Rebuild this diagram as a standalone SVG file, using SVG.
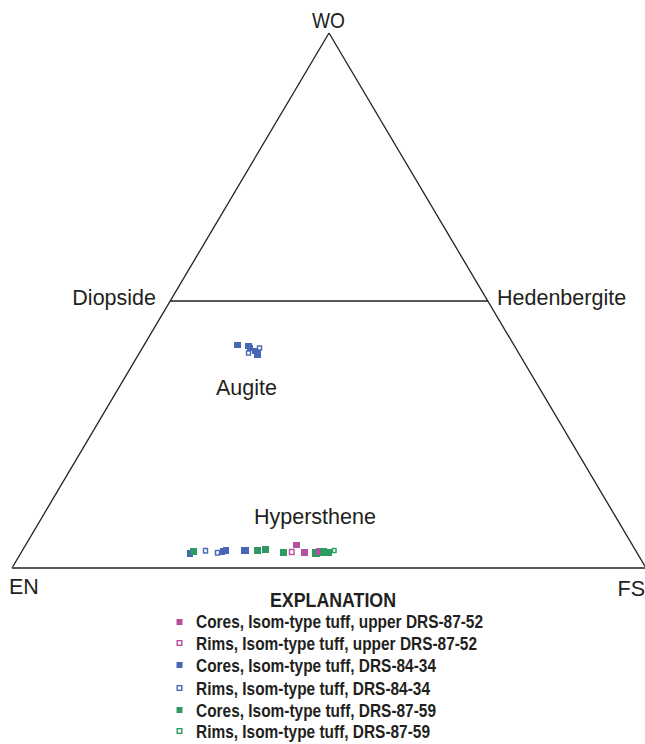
<svg xmlns="http://www.w3.org/2000/svg" width="645" height="744" viewBox="0 0 645 744">
<style>
.lbl{font-family:"Liberation Sans",Arial,sans-serif;font-size:21.5px;fill:#231f20}
.leg{font-family:"Liberation Sans",Arial,sans-serif;font-weight:bold;font-size:19px;fill:#231f20}
.edge{stroke:#231f20;stroke-width:1.3;fill:none}
.mf{fill:#b64f9d}.mo{fill:#fff;stroke:#b64f9d;stroke-width:1.4}
.bf{fill:#4766b5}.bo{fill:#fff;stroke:#4766b5;stroke-width:1.4}
.gf{fill:#2e9a62}.go{fill:#fff;stroke:#2e9a62;stroke-width:1.4}
</style>
<rect width="645" height="744" fill="#fff"/>
<g id="connectors">
<line class="edge" x1="12" y1="568" x2="329" y2="33"/>
<line class="edge" x1="329" y1="33" x2="646" y2="568"/>
<line class="edge" x1="170" y1="301" x2="488" y2="301"/>
<line x1="12" y1="568" x2="646" y2="568" stroke="#58595b" stroke-width="2"/>
</g>
<g id="labels">
<text class="lbl" x="312" y="28" textLength="33" lengthAdjust="spacingAndGlyphs">WO</text>
<text class="lbl" x="156" y="305" text-anchor="end">Diopside</text>
<text class="lbl" x="497" y="305">Hedenbergite</text>
<text class="lbl" x="216" y="395">Augite</text>
<text class="lbl" x="254" y="524">Hypersthene</text>
<text class="lbl" x="9" y="594">EN</text>
<text class="lbl" x="645" y="596" text-anchor="end">FS</text>
</g>
<g id="augite-points">
<rect class="bf" x="234" y="342" width="7" height="6"/>
<rect class="bf" x="245" y="343" width="7" height="6"/>
<rect class="bf" x="247" y="345" width="6" height="6"/>
<rect class="bo" x="246.5" y="351" width="4" height="4"/>
<rect class="bo" x="257.5" y="346" width="4" height="4"/>
<rect class="bf" x="254" y="350" width="7" height="8"/>
<rect class="bf" x="252" y="348" width="5" height="6"/>
</g>
<g id="hypersthene-points">
<rect class="bf" x="187" y="550" width="6" height="7"/>
<rect class="gf" x="190" y="548" width="7" height="7"/>
<rect class="bo" x="203.5" y="548.5" width="4" height="4.5"/>
<rect class="bo" x="215.5" y="550.5" width="4" height="4.5"/>
<rect class="bf" x="220" y="548" width="5" height="7"/>
<rect class="bf" x="223" y="547" width="6" height="7"/>
<rect class="bf" x="241" y="547" width="8" height="7"/>
<rect class="gf" x="254" y="547" width="7" height="7"/>
<rect class="gf" x="262" y="546" width="7" height="7"/>
<rect class="gf" x="280" y="549" width="7" height="7"/>
<rect class="mf" x="293" y="542" width="7" height="6"/>
<rect class="mo" x="289.5" y="549.5" width="4.5" height="5"/>
<rect class="mf" x="301" y="549" width="7" height="7"/>
<rect class="gf" x="312" y="549" width="8" height="8"/>
<rect class="mf" x="316" y="548" width="7" height="7"/>
<rect class="gf" x="320" y="548" width="7" height="8"/>
<rect class="gf" x="326" y="549" width="6" height="7"/>
<rect class="go" x="332.5" y="548.5" width="3.5" height="4"/>
</g>
<g id="legend">
<text class="leg" x="270" y="607" style="font-size:21px" textLength="126" lengthAdjust="spacingAndGlyphs">EXPLANATION</text>
<rect class="mf" x="176.5" y="619" width="6" height="6"/>
<text class="leg" x="196" y="628" textLength="287" lengthAdjust="spacingAndGlyphs">Cores, Isom-type tuff, upper DRS-87-52</text>
<rect class="mo" x="177.2" y="640.7" width="4.6" height="4.6"/>
<text class="leg" x="196" y="650" textLength="281" lengthAdjust="spacingAndGlyphs">Rims, Isom-type tuff, upper DRS-87-52</text>
<rect class="bf" x="176.5" y="662" width="6" height="6"/>
<text class="leg" x="196" y="672" textLength="240" lengthAdjust="spacingAndGlyphs">Cores, Isom-type tuff, DRS-84-34</text>
<rect class="bo" x="177.2" y="685.7" width="4.6" height="4.6"/>
<text class="leg" x="196" y="695" textLength="234" lengthAdjust="spacingAndGlyphs">Rims, Isom-type tuff, DRS-84-34</text>
<rect class="gf" x="176.5" y="707" width="6" height="6"/>
<text class="leg" x="196" y="717" textLength="240" lengthAdjust="spacingAndGlyphs">Cores, Isom-type tuff, DRS-87-59</text>
<rect class="go" x="177.2" y="728.7" width="4.6" height="4.6"/>
<text class="leg" x="196" y="738" textLength="234" lengthAdjust="spacingAndGlyphs">Rims, Isom-type tuff, DRS-87-59</text>
</g>
</svg>
